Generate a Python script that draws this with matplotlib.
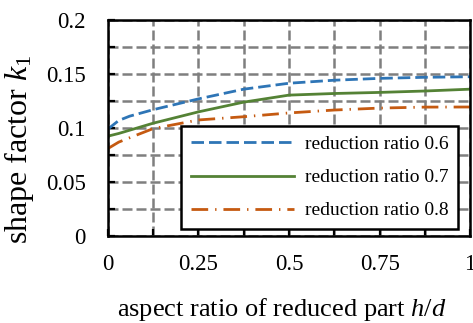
import matplotlib
matplotlib.use('Agg')
import matplotlib.pyplot as plt
import numpy as np

plt.rcParams['font.family'] = ['Liberation Serif', 'DejaVu Serif']
plt.rcParams['mathtext.fontset'] = 'custom'
plt.rcParams['mathtext.rm'] = 'Liberation Serif'
plt.rcParams['mathtext.it'] = 'Liberation Serif:italic'

# 数据
hd = [0, 0.03, 0.06, 0.125, 0.25, 0.375, 0.5, 0.625, 0.75, 0.875, 1.0]
k_06 = [0.099, 0.107, 0.111, 0.117, 0.127, 0.136, 0.1415, 0.1443, 0.146, 0.147, 0.1475]
k_07 = [0.0925, 0.095, 0.098, 0.1045, 0.115, 0.124, 0.1305, 0.132, 0.133, 0.1343, 0.136]
k_08 = [0.081, 0.087, 0.091, 0.0995, 0.1075, 0.1105, 0.114, 0.1167, 0.1185, 0.1194, 0.1195]
labels = ['reduction ratio 0.6', 'reduction ratio 0.7', 'reduction ratio 0.8']
xticks = [0, 0.25, 0.5, 0.75, 1]
xtick_labels = ['0', '0.25', '0.5', '0.75', '1']
yticks = [0, 0.05, 0.1, 0.15, 0.2]
ytick_labels = ['0', '0.05', '0.1', '0.15', '0.2']

fig = plt.figure(figsize=(4.73, 3.23), dpi=100)
ax = fig.add_axes([0.228, 0.269, 0.766, 0.669])

ax.plot(hd, k_06, color='#2e75b6', lw=2.0, dashes=(4.5, 1.8), label=labels[0])
ax.plot(hd, k_07, color='#548235', lw=2.0, label=labels[1])
ax.plot(hd, k_08, color='#c55a11', lw=2.0, dashes=(6, 2.5, 0.5, 2.5), label=labels[2])

ax.set_xlim(0, 1)
ax.set_ylim(0, 0.2)
ax.set_xticks(xticks)
ax.set_xticklabels(xtick_labels)
ax.set_xticks(np.arange(0.125, 1, 0.25), minor=True)
ax.set_yticks(yticks)
ax.set_yticklabels(ytick_labels)
ax.set_yticks(np.arange(0.025, 0.2, 0.05), minor=True)

ax.grid(True, which='both', color='#7f7f7f', lw=1.8, ls=(0, (4, 1.6)))
ax.set_axisbelow(True)
ax.tick_params(which='both', direction='in', length=5, width=1.6, color='black')
ax.tick_params(axis='x', which='major', labelsize=16.5, pad=13)
ax.tick_params(axis='y', which='major', labelsize=16.5, pad=16)
for s in ax.spines.values():
    s.set_linewidth(1.8)
    s.set_color('black')

ax.set_xlabel('aspect ratio of reduced part $\\mathit{h/d}$', fontsize=19)
ax.xaxis.set_label_coords(0.48, -0.275)
ax.set_ylabel('shape factor $\\mathit{k}_{\\mathit{1}}$', fontsize=23)
ax.yaxis.set_label_coords(-0.198, 0.40)

leg = ax.legend(loc='lower right', bbox_to_anchor=(0.967, 0.032), borderaxespad=0,
                fontsize=14, handlelength=5.3, handletextpad=0.55, labelspacing=0.8,
                borderpad=0.5, fancybox=False, framealpha=1, edgecolor='black')
leg.get_frame().set_linewidth(1.8)

fig.savefig('out.png', dpi=100)
